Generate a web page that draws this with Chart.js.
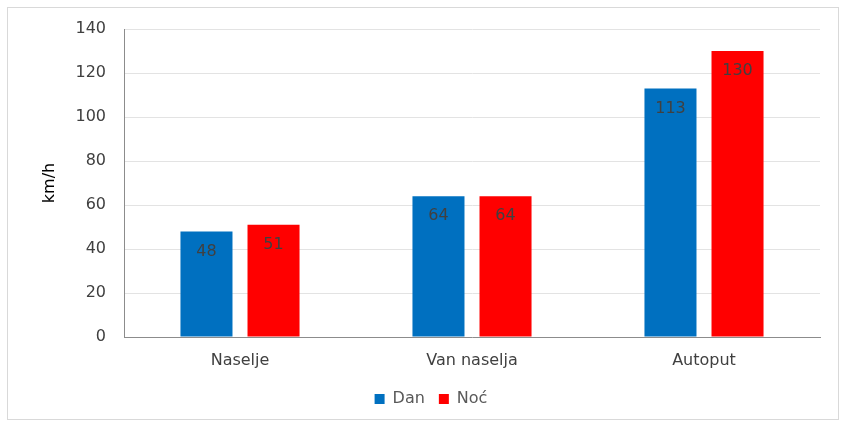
<!DOCTYPE html>
<html>
<head>
<meta charset="utf-8">
<script src="https://cdn.jsdelivr.net/npm/chart.js@4.4.0/dist/chart.umd.min.js"></script>
<style>
  html, body { margin: 0; padding: 0; background: #fff; }
  #frame {
    position: absolute; left: 7px; top: 7px;
    width: 830px; height: 411px;
    border: 1px solid #d9d9d9;
  }
  #chart { display: block; }
</style>
</head>
<body>
<div id="frame"><canvas id="chart" width="830" height="411"></canvas></div>
<script>
const categories = ['Naselje', 'Van naselja', 'Autoput'];
const danValues = [48, 64, 113];
const nocValues = [51, 64, 130];
const yTicks = [0, 20, 40, 60, 80, 100, 120, 140];

// values drawn inside the top of every bar
const barLabels = {
    id: 'barLabels',
    afterDatasetsDraw(chart) {
        const ctx = chart.ctx;
        ctx.save();
        ctx.font = '16px "DejaVu Sans"';
        ctx.fillStyle = '#404040';
        ctx.textAlign = 'center';
        ctx.textBaseline = 'middle';
        chart.data.datasets.forEach((ds, i) => {
            chart.getDatasetMeta(i).data.forEach((bar, j) => {
                ctx.fillText(ds.data[j], bar.x, bar.y + 20);
            });
        });
        ctx.restore();
    }
};

// legend sits a bit right of centre in the original
const legendShift = {
    id: 'legendShift',
    afterLayout(chart) {
        chart.legend.left += 17;
        chart.legend.right += 17;
    }
};

new Chart(document.getElementById('chart'), {
    type: 'bar',
    data: {
        labels: categories,
        datasets: [
            { label: 'Dan', data: danValues, backgroundColor: '#0070C0' },
            { label: 'Noć', data: nocValues, backgroundColor: '#FF0000' }
        ]
    },
    options: {
        responsive: false,
        animation: false,
        categoryPercentage: 0.578,
        barPercentage: 0.776,
        layout: { padding: { left: 0, right: 18, top: 0, bottom: 2 } },
        plugins: {
            legend: {
                position: 'bottom',
                labels: {
                    boxWidth: 10, boxHeight: 10, padding: 14,
                    color: '#595959',
                    font: { family: 'DejaVu Sans', size: 16 }
                }
            },
            tooltip: { enabled: false }
        },
        scales: {
            x: {
                afterFit(scale) { scale.height = 40; },
                grid: { display: false, drawTicks: false },
                border: { color: '#8c8c8c', width: 1 },
                ticks: { color: '#404040', padding: 14, font: { family: 'DejaVu Sans', size: 16 } }
            },
            y: {
                min: 0, max: 140,
                afterFit(scale) {
                    scale.width = 116;
                    scale.paddingTop = 21;
                    scale.paddingBottom = 0;
                },
                afterBuildTicks(scale) { scale.ticks = yTicks.map(v => ({ value: v })); },
                grid: { color: '#e3e3e3', drawTicks: false },
                border: { color: '#8c8c8c', width: 1 },
                ticks: { color: '#404040', padding: 18, font: { family: 'DejaVu Sans', size: 16 } },
                title: {
                    display: true, text: 'km/h', color: '#000',
                    padding: { top: 32, bottom: 0 },
                    font: { family: 'DejaVu Sans', size: 16 }
                }
            }
        }
    },
    plugins: [barLabels, legendShift]
});
</script>
</body>
</html>
